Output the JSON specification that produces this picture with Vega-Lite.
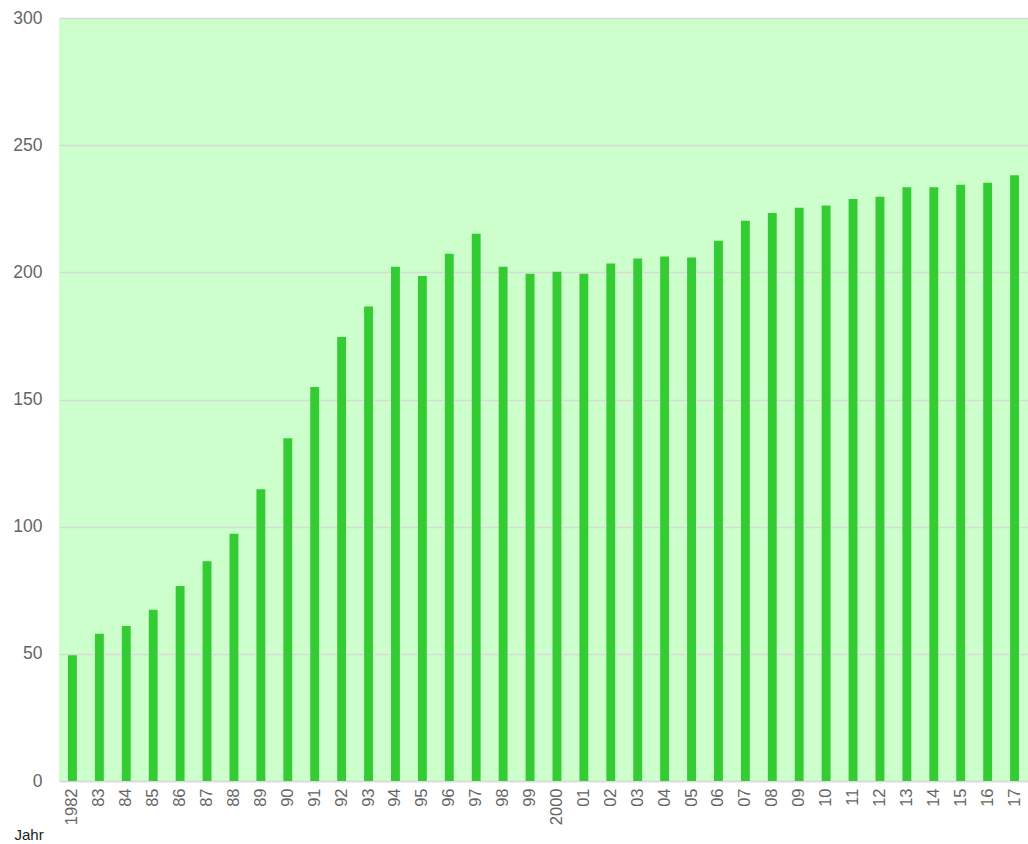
{
  "$schema": "https://vega.github.io/schema/vega-lite/v6.json",
  "width": 969,
  "height": 763,
  "autosize": "none",
  "padding": {"left": 59, "top": 18, "right": 0, "bottom": 63},
  "background": "white",
  "config": {
    "view": {"fill": "#ccffcc", "stroke": null},
    "font": "Liberation Sans"
  },
  "data": {
    "values": [
      {"Jahr": "1982", "v": 49.4},
      {"Jahr": "83", "v": 57.9},
      {"Jahr": "84", "v": 60.9},
      {"Jahr": "85", "v": 67.3},
      {"Jahr": "86", "v": 76.7},
      {"Jahr": "87", "v": 86.4},
      {"Jahr": "88", "v": 97.2},
      {"Jahr": "89", "v": 114.7},
      {"Jahr": "90", "v": 134.8},
      {"Jahr": "91", "v": 154.9},
      {"Jahr": "92", "v": 174.6},
      {"Jahr": "93", "v": 186.6},
      {"Jahr": "94", "v": 202.2},
      {"Jahr": "95", "v": 198.6},
      {"Jahr": "96", "v": 207.3},
      {"Jahr": "97", "v": 215.2},
      {"Jahr": "98", "v": 202.2},
      {"Jahr": "99", "v": 199.4},
      {"Jahr": "2000", "v": 200.2},
      {"Jahr": "01", "v": 199.4},
      {"Jahr": "02", "v": 203.5},
      {"Jahr": "03", "v": 205.4},
      {"Jahr": "04", "v": 206.2},
      {"Jahr": "05", "v": 205.8},
      {"Jahr": "06", "v": 212.4},
      {"Jahr": "07", "v": 220.3},
      {"Jahr": "08", "v": 223.3},
      {"Jahr": "09", "v": 225.4},
      {"Jahr": "10", "v": 226.3},
      {"Jahr": "11", "v": 228.8},
      {"Jahr": "12", "v": 229.7},
      {"Jahr": "13", "v": 233.5},
      {"Jahr": "14", "v": 233.5},
      {"Jahr": "15", "v": 234.4},
      {"Jahr": "16", "v": 235.2},
      {"Jahr": "17", "v": 238.2}
    ]
  },
  "mark": {"type": "bar", "color": "#33cc33"},
  "encoding": {
    "x": {
      "field": "Jahr",
      "type": "nominal",
      "sort": null,
      "scale": {"paddingInner": 0.67, "paddingOuter": 0.335},
      "axis": {
        "title": "Jahr",
        "titleFont": "Liberation Sans",
        "titleFontSize": 15,
        "titleFontWeight": "normal",
        "titleColor": "#222222",
        "titleAnchor": "start",
        "titleAlign": "left",
        "titleX": -45,
        "titleY": 58,
        "titleBaseline": "alphabetic",
        "labelAngle": 270,
        "labelFontSize": 16.5,
        "labelColor": "#666666",
        "labelPadding": 7,
        "ticks": false,
        "domainColor": "#d9d9d9",
        "domainWidth": 1.5
      }
    },
    "y": {
      "field": "v",
      "type": "quantitative",
      "scale": {"domain": [0, 300], "nice": false},
      "axis": {
        "title": null,
        "values": [0, 50, 100, 150, 200, 250, 300],
        "labelFontSize": 17.5,
        "labelColor": "#666666",
        "labelPadding": 17,
        "ticks": false,
        "domain": false,
        "gridColor": "#d9d9d9",
        "gridWidth": 1.5
      }
    }
  }
}
